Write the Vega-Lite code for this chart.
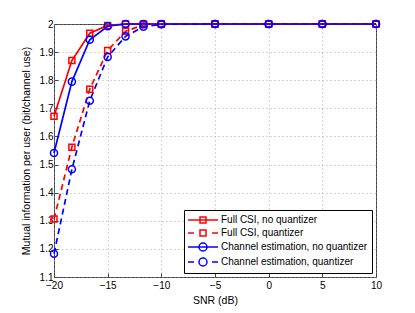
{
  "$schema": "https://vega.github.io/schema/vega-lite/v6.json",
  "width": 322,
  "height": 253,
  "autosize": "none",
  "padding": {"left": 54, "top": 24, "right": 39, "bottom": 36},
  "background": "white",
  "config": {
    "font": "Liberation Sans",
    "view": {"stroke": "#444", "strokeWidth": 1},
    "axis": {
      "labelFont": "Liberation Sans",
      "labelFontSize": 10,
      "labelColor": "#000",
      "labelFlush": false,
      "labelOverlap": false,
      "titleFont": "Liberation Sans",
      "titleFontSize": 10.5,
      "titleFontWeight": "normal",
      "titleColor": "#000",
      "gridColor": "#999",
      "gridDash": [1, 3],
      "gridOpacity": 0.8,
      "tickColor": "#444",
      "tickSize": -4,
      "domain": false
    }
  },
  "data": {
    "values": [
      {"series": "Full CSI, no quantizer", "snr": -20, "mi": 1.672},
      {"series": "Full CSI, no quantizer", "snr": -18.333, "mi": 1.870},
      {"series": "Full CSI, no quantizer", "snr": -16.667, "mi": 1.967},
      {"series": "Full CSI, no quantizer", "snr": -15, "mi": 1.995},
      {"series": "Full CSI, no quantizer", "snr": -13.333, "mi": 2.0},
      {"series": "Full CSI, no quantizer", "snr": -11.667, "mi": 2.0},
      {"series": "Full CSI, no quantizer", "snr": -10, "mi": 2.0},
      {"series": "Full CSI, no quantizer", "snr": -5, "mi": 2.0},
      {"series": "Full CSI, no quantizer", "snr": 0, "mi": 2.0},
      {"series": "Full CSI, no quantizer", "snr": 5, "mi": 2.0},
      {"series": "Full CSI, no quantizer", "snr": 10, "mi": 2.0},
      {"series": "Full CSI, quantizer", "snr": -20, "mi": 1.306},
      {"series": "Full CSI, quantizer", "snr": -18.333, "mi": 1.562},
      {"series": "Full CSI, quantizer", "snr": -16.667, "mi": 1.768},
      {"series": "Full CSI, quantizer", "snr": -15, "mi": 1.906},
      {"series": "Full CSI, quantizer", "snr": -13.333, "mi": 1.974},
      {"series": "Full CSI, quantizer", "snr": -11.667, "mi": 1.997},
      {"series": "Full CSI, quantizer", "snr": -10, "mi": 2.0},
      {"series": "Full CSI, quantizer", "snr": -5, "mi": 2.0},
      {"series": "Full CSI, quantizer", "snr": 0, "mi": 2.0},
      {"series": "Full CSI, quantizer", "snr": 5, "mi": 2.0},
      {"series": "Full CSI, quantizer", "snr": 10, "mi": 2.0},
      {"series": "Channel estimation, no quantizer", "snr": -20, "mi": 1.541},
      {"series": "Channel estimation, no quantizer", "snr": -18.333, "mi": 1.795},
      {"series": "Channel estimation, no quantizer", "snr": -16.667, "mi": 1.944},
      {"series": "Channel estimation, no quantizer", "snr": -15, "mi": 1.992},
      {"series": "Channel estimation, no quantizer", "snr": -13.333, "mi": 2.0},
      {"series": "Channel estimation, no quantizer", "snr": -11.667, "mi": 2.0},
      {"series": "Channel estimation, no quantizer", "snr": -10, "mi": 2.0},
      {"series": "Channel estimation, no quantizer", "snr": -5, "mi": 2.0},
      {"series": "Channel estimation, no quantizer", "snr": 0, "mi": 2.0},
      {"series": "Channel estimation, no quantizer", "snr": 5, "mi": 2.0},
      {"series": "Channel estimation, no quantizer", "snr": 10, "mi": 2.0},
      {"series": "Channel estimation, quantizer", "snr": -20, "mi": 1.183},
      {"series": "Channel estimation, quantizer", "snr": -18.333, "mi": 1.483},
      {"series": "Channel estimation, quantizer", "snr": -16.667, "mi": 1.727},
      {"series": "Channel estimation, quantizer", "snr": -15, "mi": 1.883},
      {"series": "Channel estimation, quantizer", "snr": -13.333, "mi": 1.956},
      {"series": "Channel estimation, quantizer", "snr": -11.667, "mi": 1.990},
      {"series": "Channel estimation, quantizer", "snr": -10, "mi": 1.999},
      {"series": "Channel estimation, quantizer", "snr": -5, "mi": 2.0},
      {"series": "Channel estimation, quantizer", "snr": 0, "mi": 2.0},
      {"series": "Channel estimation, quantizer", "snr": 5, "mi": 2.0},
      {"series": "Channel estimation, quantizer", "snr": 10, "mi": 2.0}
    ]
  },
  "encoding": {
    "x": {
      "field": "snr", "type": "quantitative",
      "scale": {"domain": [-20, 10], "nice": false, "zero": false},
      "axis": {"values": [-20, -15, -10, -5, 0, 5, 10], "title": "SNR (dB)", "titlePadding": 5, "labelPadding": 7}
    },
    "y": {
      "field": "mi", "type": "quantitative",
      "scale": {"domain": [1.1, 2], "nice": false, "zero": false},
      "axis": {"values": [1.1, 1.2, 1.3, 1.4, 1.5, 1.6, 1.7, 1.8, 1.9, 2.0], "format": "~f", "title": "Mutual information per user (bit/channel use)", "titlePadding": 8, "labelPadding": 5}
    },
    "color": {
      "field": "series", "type": "nominal",
      "scale": {
        "domain": ["Full CSI, no quantizer", "Full CSI, quantizer", "Channel estimation, no quantizer", "Channel estimation, quantizer"],
        "range": ["#ff0000", "#ff0000", "#0000ff", "#0000ff"]
      },
      "legend": {
        "title": null,
        "orient": "bottom-right",
        "offset": 4,
        "strokeColor": "#000",
        "fillColor": "#fff",
        "padding": 4,
        "labelFont": "Liberation Sans",
        "labelFontSize": 10,
        "labelColor": "#000",
        "labelLimit": 300,
        "symbolSize": 100,
        "symbolOffset": 9,
        "labelOffset": 12,
        "rowPadding": 1,
        "symbolStrokeWidth": 1.5,
        "encode": {
          "symbols": {
            "update": {
              "shape": {"signal": "datum.value == 'Full CSI, no quantizer' ? 'M-3,0H3M-0.6,-0.6H0.6V0.6H-0.6Z' : datum.value == 'Full CSI, quantizer' ? 'M-3,0H-1.8M1.8,0H3M-0.6,-0.6H0.6V0.6H-0.6Z' : datum.value == 'Channel estimation, no quantizer' ? 'M-3,0H3M-0.8,0A0.8,0.8 0 1,0 0.8,0A0.8,0.8 0 1,0 -0.8,0' : 'M-3,0H-1.8M1.8,0H3M-0.8,0A0.8,0.8 0 1,0 0.8,0A0.8,0.8 0 1,0 -0.8,0'"},
              "fill": {"value": "transparent"},
              "strokeWidth": {"value": 1.5}
            }
          }
        }
      }
    }
  },
  "layer": [
    {
      "transform": [{"filter": "datum.series == 'Full CSI, no quantizer' || datum.series == 'Channel estimation, no quantizer'"}],
      "mark": {"type": "line", "strokeWidth": 1.7}
    },
    {
      "transform": [{"filter": "datum.series == 'Full CSI, quantizer' || datum.series == 'Channel estimation, quantizer'"}],
      "mark": {"type": "line", "strokeWidth": 1.7, "strokeDash": [6, 4]}
    },
    {
      "transform": [{"filter": "datum.series == 'Full CSI, no quantizer' || datum.series == 'Full CSI, quantizer'"}],
      "mark": {"type": "point", "shape": "square", "filled": false, "strokeWidth": 1.5, "size": 36, "opacity": 1}
    },
    {
      "transform": [{"filter": "datum.series == 'Channel estimation, no quantizer' || datum.series == 'Channel estimation, quantizer'"}],
      "mark": {"type": "point", "shape": "circle", "filled": false, "strokeWidth": 1.5, "size": 50, "opacity": 1}
    }
  ]
}
